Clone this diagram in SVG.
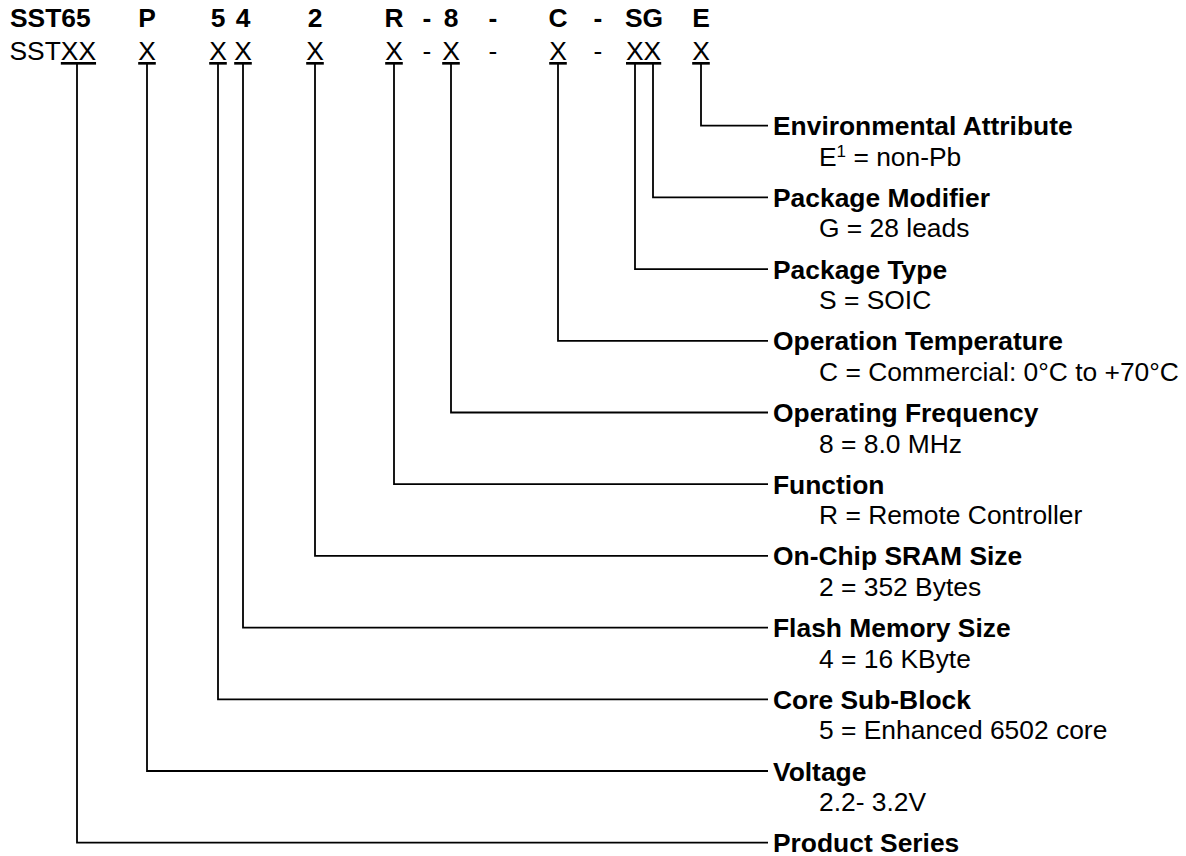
<svg xmlns="http://www.w3.org/2000/svg" width="1186" height="856" viewBox="0 0 1186 856">
<style>
text{font-family:"Liberation Sans",Arial,sans-serif;font-size:26.4px;fill:#000}
.b{font-weight:bold}
.c{text-anchor:middle}
.ln{fill:none;stroke:#000;stroke-width:1.8}
</style>
<rect width="1186" height="856" fill="#fff"/>
<g id="part-number">
<text class="b" x="10" y="27">SST65</text>
<text class="b c" x="147" y="27">P</text>
<text class="b c" x="218" y="27">5</text>
<text class="b c" x="243" y="27">4</text>
<text class="b c" x="315" y="27">2</text>
<text class="b c" x="394" y="27">R</text>
<text class="b c" x="427" y="27">-</text>
<text class="b c" x="451" y="27">8</text>
<text class="b c" x="493" y="27">-</text>
<text class="b c" x="558" y="27">C</text>
<text class="b c" x="598" y="27">-</text>
<text class="b" x="625" y="27">SG</text>
<text class="b c" x="701" y="27">E</text>
</g>
<g id="template">
<text x="9.5" y="60">SST<tspan text-decoration="underline">XX</tspan></text>
<text class="c" x="147" y="60" text-decoration="underline">X</text>
<text class="c" x="218" y="60" text-decoration="underline">X</text>
<text class="c" x="243" y="60" text-decoration="underline">X</text>
<text class="c" x="315" y="60" text-decoration="underline">X</text>
<text class="c" x="394" y="60" text-decoration="underline">X</text>
<text class="c" x="427" y="60">-</text>
<text class="c" x="451" y="60" text-decoration="underline">X</text>
<text class="c" x="493" y="60">-</text>
<text class="c" x="558" y="60" text-decoration="underline">X</text>
<text class="c" x="598" y="60">-</text>
<text x="626" y="60" text-decoration="underline">XX</text>
<text class="c" x="701" y="60" text-decoration="underline">X</text>
</g>
<g id="connectors">
<path class="ln" d="M701 63V125.7H768"/>
<path class="ln" d="M653 63V197.4H768"/>
<path class="ln" d="M635 63V269.1H768"/>
<path class="ln" d="M558 63V340.8H768"/>
<path class="ln" d="M451 63V412.5H768"/>
<path class="ln" d="M394 63V484.2H768"/>
<path class="ln" d="M315 63V555.9H768"/>
<path class="ln" d="M243 63V627.6H768"/>
<path class="ln" d="M218 63V699.3H768"/>
<path class="ln" d="M147 63V771H768"/>
<path class="ln" d="M77 63V842.7H768"/>
</g>
<g id="environmental-attribute">
<text class="b" x="773" y="135.2">Environmental Attribute</text>
<text x="819" y="165.7">E<tspan dy="-9" font-size="17">1</tspan><tspan dy="9"> = non-Pb</tspan></text>
</g>
<g id="package-modifier">
<text class="b" x="773" y="206.9">Package Modifier</text>
<text x="819" y="237.4">G = 28 leads</text>
</g>
<g id="package-type">
<text class="b" x="773" y="278.6">Package Type</text>
<text x="819" y="309.1">S = SOIC</text>
</g>
<g id="operation-temperature">
<text class="b" x="773" y="350.3">Operation Temperature</text>
<text x="819" y="380.8">C = Commercial: 0°C to +70°C</text>
</g>
<g id="operating-frequency">
<text class="b" x="773" y="422">Operating Frequency</text>
<text x="819" y="452.5">8 = 8.0 MHz</text>
</g>
<g id="function">
<text class="b" x="773" y="493.7">Function</text>
<text x="819" y="524.2">R = Remote Controller</text>
</g>
<g id="sram-size">
<text class="b" x="773" y="565.4">On-Chip SRAM Size</text>
<text x="819" y="595.9">2 = 352 Bytes</text>
</g>
<g id="flash-size">
<text class="b" x="773" y="637.1">Flash Memory Size</text>
<text x="819" y="667.6">4 = 16 KByte</text>
</g>
<g id="core-sub-block">
<text class="b" x="773" y="708.8">Core Sub-Block</text>
<text x="819" y="739.3">5 = Enhanced 6502 core</text>
</g>
<g id="voltage">
<text class="b" x="773" y="780.5">Voltage</text>
<text x="819" y="811">2.2- 3.2V</text>
</g>
<g id="product-series">
<text class="b" x="773" y="852.2">Product Series</text>
</g>
</svg>
